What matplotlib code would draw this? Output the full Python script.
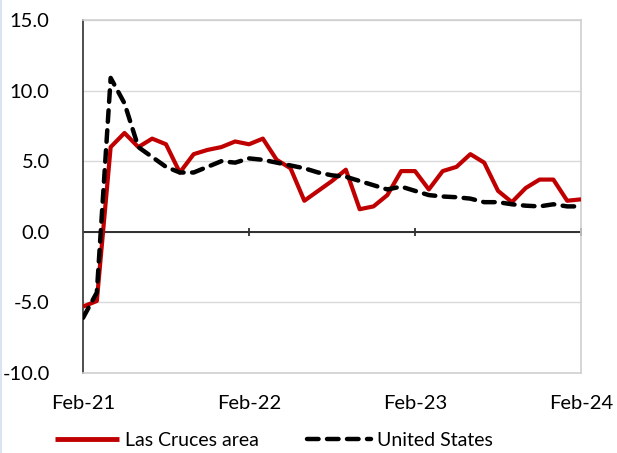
import pandas as pd
import matplotlib.pyplot as plt
from matplotlib.lines import Line2D

plt.rcParams['font.family'] = ['Lato', 'DejaVu Sans']
plt.rcParams['axes.unicode_minus'] = False

# monthly year-over-year change, Feb-21 .. Feb-24
months = pd.date_range('2021-02-01', '2024-02-01', freq='MS')
las_cruces = [-5.3, -4.9, 6.0, 7.0, 6.0, 6.6, 6.2, 4.2, 5.5, 5.8, 6.0, 6.4,
              6.2, 6.6, 5.1, 4.5, 2.2, 2.9, 3.6, 4.4, 1.6, 1.8, 2.6, 4.3,
              4.3, 3.0, 4.3, 4.6, 5.5, 4.9, 2.9, 2.1, 3.1, 3.7, 3.7, 2.2,
              2.3]
united_states = [-6.1, -4.3, 10.9, 9.1, 6.0, 5.3, 4.6, 4.2, 4.2, 4.6, 5.0, 4.9,
                 5.2, 5.1, 4.9, 4.7, 4.5, 4.2, 4.0, 3.9, 3.6, 3.3, 3.0, 3.2,
                 2.9, 2.6, 2.5, 2.45, 2.35, 2.1, 2.1, 1.95, 1.85, 1.8, 1.95, 1.8,
                 1.8]
tick_pos = [0, 12, 24, 36]
tick_labels = [months[i].strftime('%b-%y') for i in tick_pos]

x = list(range(len(months)))

fig = plt.figure(figsize=(6.17, 4.53), dpi=100)
ax = fig.add_axes([0.1345, 0.1766, 0.8072, 0.7792])

ax.plot(x, las_cruces, color='#C00000', lw=3, solid_capstyle='butt',
        zorder=3, label='Las Cruces area')
ax.plot(x, united_states, color='black', lw=3.2, linestyle=(0, (2.6, 1.9)),
        dash_capstyle='round', zorder=4, label='United States')

ax.set_xlim(0, 36)
ax.set_ylim(-10, 15)
ax.set_yticks([-10, -5, 0, 5, 10, 15])
ax.set_yticklabels([f'{v:.1f}' for v in [-10, -5, 0, 5, 10, 15]])
ax.tick_params(axis='y', length=0, pad=24, labelsize=14.5, labelcolor='black')
ax.grid(axis='y', color='#D9D9D9', lw=1)
ax.set_axisbelow(True)

# plot area border
for s in ['top', 'right', 'bottom']:
    ax.spines[s].set_color('#D0D0D0')
    ax.spines[s].set_linewidth(1.2)
ax.spines['left'].set_color('#404040')
ax.spines['left'].set_linewidth(1.3)

# zero line with crossing tick marks
ax.axhline(0, color='#202020', lw=1.3, zorder=2)
ax.set_xticks(tick_pos)
ax.set_xticklabels([])
ax.tick_params(axis='x', length=0)
ax.plot(tick_pos[1:], [0] * 3, linestyle='none', marker='|', markersize=6,
        markeredgewidth=1.3, color='#303030', zorder=2)
for p, lab in zip(tick_pos, tick_labels):
    ax.text(p, -0.085, lab, transform=ax.get_xaxis_transform(),
            ha='center', va='center', fontsize=14.5)

handles = [Line2D([], [], color='#C00000', lw=3.5, solid_capstyle='butt'),
           Line2D([], [], color='black', lw=3.2, linestyle=(0, (2.6, 1.9)),
                  dash_capstyle='round')]
fig.legend(handles, ['Las Cruces area', 'United States'], loc='center',
           bbox_to_anchor=(0.444, 0.027), ncol=2, frameon=False, fontsize=14,
           handlelength=3.3, handletextpad=0.3, columnspacing=2.5)

# thin light-blue left edge
fig.add_artist(Line2D([0.001, 0.001], [0, 1], transform=fig.transFigure,
                      color='#DAE3F3', lw=1.5))

fig.savefig('out.png', dpi=100)
